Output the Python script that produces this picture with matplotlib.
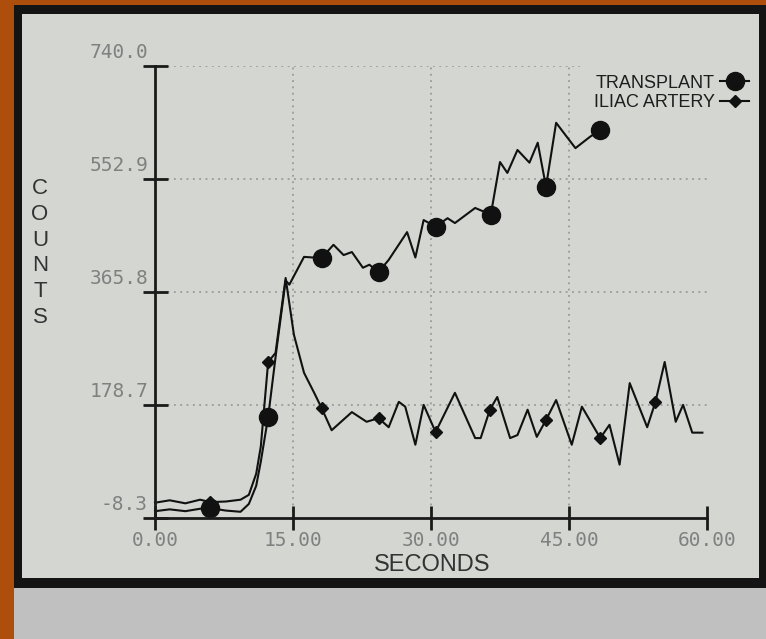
import numpy as np
import matplotlib
matplotlib.use("Agg")
import matplotlib.pyplot as plt
import matplotlib.transforms as mtransforms

# time (s) and counts
trans_t = [0.0, 1.6, 3.3, 4.9, 6.0, 7.7, 9.3, 10.2, 11.0, 11.5, 12.3, 13.2, 14.2, 14.6,
           16.2, 18.1, 19.4, 20.5, 21.4, 22.6, 23.3, 24.3, 25.4, 27.4, 28.3, 29.2,
           30.5, 31.8, 32.6, 34.8, 36.5, 37.5, 38.3, 39.4, 40.7, 41.6, 42.5, 43.6,
           45.7, 47.3, 48.4]
trans_c = [3, 6, 3, 7, 8, 4, 2, 15, 45, 85, 159, 270, 385, 378,
           424, 422, 444, 427, 432, 406, 411, 399, 419, 465, 423, 485,
           474, 488, 480, 505, 494, 581, 563, 601, 580, 613, 540, 646,
           604, 623, 634]
trans_marks = [4, 10, 15, 21, 26, 30, 36, 40]

iliac_t = [0.0, 1.6, 3.3, 4.9, 6.0, 7.7, 9.3, 10.2, 11.0, 11.5, 12.3, 13.1, 14.2,
           15.1, 16.2, 17.3, 18.1, 19.2, 21.4, 23.0, 24.3, 25.4, 26.5, 27.2, 28.3,
           29.2, 30.5, 32.6, 34.8, 35.4, 36.4, 37.2, 38.6, 39.4, 40.5, 41.5, 42.5,
           43.6, 45.3, 46.4, 48.4, 49.4, 50.5, 51.6, 53.5, 54.4, 55.4, 56.6, 57.4,
           58.4, 59.5]
iliac_c = [17, 21, 16, 22, 18, 19, 22, 30, 65, 110, 250, 265, 389,
           295, 232, 199, 174, 137, 167, 151, 157, 142, 184, 176, 113,
           179, 134, 199, 124, 124, 171, 192, 124, 129, 171, 126, 154,
           187, 113, 176, 124, 146, 80, 215, 142, 184, 250, 151, 179,
           133, 133]
iliac_marks = [4, 10, 16, 20, 26, 30, 36, 40, 45]

x_ticks = [0, 15, 30, 45, 60]
x_labels = ["0.00", "15.00", "30.00", "45.00", "60.00"]
y_ticks = [-8.3, 178.7, 365.8, 552.9, 740.0]
y_labels = ["-8.3", "178.7", "365.8", "552.9", "740.0"]

W, H = 766, 639
fig = plt.figure(figsize=(W / 100, H / 100), dpi=100, facecolor="#ad4e0d")

def box(x0, y0, x1, y1, color):
    # pixel box (top-left origin) -> background axes
    a = fig.add_axes([x0 / W, (H - y1) / H, (x1 - x0) / W, (y1 - y0) / H])
    a.set_facecolor(color)
    a.set_xticks([])
    a.set_yticks([])
    for s in a.spines.values():
        s.set_visible(False)
    return a

box(14, 5, 766, 588, "#141414")
box(14, 588, 766, 639, "#c0c0c0")
box(22, 14, 759, 578, "#d4d6d1")

ax = fig.add_axes([155 / W, (H - 518) / H, 552 / W, 452 / H])
ax.set_facecolor("none")

ax.plot(trans_t, trans_c, color="#111111", lw=1.5, marker="o", ms=13,
        markevery=trans_marks, label="TRANSPLANT", clip_on=False)
ax.plot(iliac_t, iliac_c, color="#111111", lw=1.5, marker="D", ms=6.5,
        markevery=iliac_marks, label="ILIAC ARTERY", clip_on=False)

ax.set_xlim(0, 60)
ax.set_ylim(-8.3, 740.0)
ax.set_xticks(x_ticks)
ax.set_xticklabels(x_labels)
ax.set_yticks(y_ticks)
ax.set_yticklabels(y_labels)

for s in ["top", "right"]:
    ax.spines[s].set_visible(False)
for s in ["left", "bottom"]:
    ax.spines[s].set_linewidth(2)
    ax.spines[s].set_color("#1a1a1a")

ax.tick_params(axis="both", direction="inout", width=2, color="#1a1a1a",
               labelcolor="#808080", labelsize=14)
ax.tick_params(axis="x", length=17, pad=1)
ax.tick_params(axis="y", length=18, pad=-4)
for lbl in ax.get_xticklabels() + ax.get_yticklabels():
    lbl.set_family("DejaVu Sans Mono")
off = mtransforms.ScaledTranslation(0, 3 / 72, fig.dpi_scale_trans)
for lbl in ax.get_yticklabels():
    lbl.set_va("bottom")
    lbl.set_transform(lbl.get_transform() + off)

# dotted grid (top line stops short of the legend)
grid_style = dict(color="#9a9a9a", lw=1.3, ls=(0, (1, 2.5)), zorder=0)
for yv in y_ticks[1:4]:
    ax.axhline(yv, **grid_style)
ax.axhline(y_ticks[4], xmax=0.77, **grid_style)
for xv in x_ticks[1:4]:
    ax.axvline(xv, **grid_style)

leg = ax.legend(loc="upper right", bbox_to_anchor=(762 / W, 1 - 62 / H),
                bbox_transform=fig.transFigure, frameon=False, markerfirst=False,
                handlelength=1.6, handletextpad=0.3, labelspacing=0.15,
                borderpad=0.2, prop={"family": "Liberation Sans", "size": 13})
for t in leg.get_texts():
    t.set_color("#1e1e1e")

fig.text(40 / W, 1 - 253 / H, "C\nO\nU\nN\nT\nS", ha="center", va="center",
         fontsize=16, linespacing=1.29, color="#333333", family="Liberation Sans")
fig.text(432 / W, 1 - 565 / H, "SECONDS", ha="center", va="center",
         fontsize=17, color="#333333", family="Liberation Sans")

fig.savefig("out.png", dpi=100, facecolor=fig.get_facecolor())
